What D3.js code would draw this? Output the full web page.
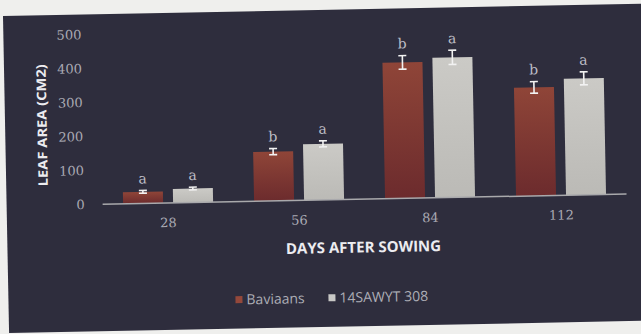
<!DOCTYPE html>
<html>
<head>
<meta charset="utf-8">
<script src="https://cdn.jsdelivr.net/npm/d3@7"></script>
<style>
  html, body { margin: 0; padding: 0; background: #efefed; }
  svg { display: block; }
</style>
</head>
<body>
<svg id="chart" width="641" height="334"></svg>
<script>
// Leaf area (cm2) by days after sowing, two wheat lines
const days = ["28", "56", "84", "112"];
const seriesNames = ["Baviaans", "14SAWYT 308"];
const baviaans = [34, 145, 400, 319];
const baviaansErr = [4, 9, 20, 17];
const sawyt = [41, 165, 412, 343];
const sawytErr = [4, 9, 21, 19];
const baviaansLetters = ["a", "b", "b", "b"];
const sawytLetters = ["a", "a", "a", "a"];
const yTicks = [0, 100, 200, 300, 400, 500];

const rows = days.map((d, i) => ({
  day: d,
  bars: [
    { series: seriesNames[0], value: baviaans[i], err: baviaansErr[i], letter: baviaansLetters[i] },
    { series: seriesNames[1], value: sawyt[i], err: sawytErr[i], letter: sawytLetters[i] }
  ]
}));

const svg = d3.select("#chart");

// gradients for the two bar fills
const defs = svg.append("defs");
function grad(id, top, bottom) {
  const g = defs.append("linearGradient").attr("id", id)
    .attr("x1", 0).attr("y1", 0).attr("x2", 0).attr("y2", 1);
  g.append("stop").attr("offset", "0%").attr("stop-color", top);
  g.append("stop").attr("offset", "100%").attr("stop-color", bottom);
}
grad("gBav", "#8f4538", "#6c2b2d");
grad("gSaw", "#cbcac6", "#bbbab6");
const fills = { "Baviaans": "url(#gBav)", "14SAWYT 308": "url(#gSaw)" };
const swatch = { "Baviaans": "#94483b", "14SAWYT 308": "#c8c8c6" };

// whole slide is slightly tilted
const root = svg.append("g").attr("transform", "rotate(-1.1 320 170)");

root.append("rect")
  .attr("x", 6).attr("y", 10).attr("width", 645).attr("height", 317)
  .attr("fill", "#2e2d3d");

const x = d3.scaleBand().domain(days).range([102, 626]).paddingInner(0).paddingOuter(0);
const xs = d3.scaleBand().domain(seriesNames).range([0, x.bandwidth()])
  .paddingInner(0.2).paddingOuter(0.41);
const y = d3.scaleLinear().domain([0, 500]).range([200, 30]);

// y tick labels (no axis line)
const yAxis = d3.axisLeft(y).tickValues(yTicks).tickSize(0).tickPadding(0);
const yg = root.append("g").attr("transform", "translate(84,0)").call(yAxis);
yg.select(".domain").remove();
yg.selectAll("text")
  .attr("font-family", "'DejaVu Serif', serif")
  .attr("font-size", 13)
  .attr("fill", "#a9a9b3");

// x category labels
const xAxis = d3.axisBottom(x).tickSize(0).tickPadding(0);
const xg = root.append("g").attr("transform", "translate(0,215)").call(xAxis);
xg.select(".domain").remove();
xg.selectAll("text")
  .attr("font-family", "'DejaVu Serif', serif")
  .attr("font-size", 13)
  .attr("fill", "#a9a9b3");

// bars
const groups = root.selectAll("g.day").data(rows).enter().append("g")
  .attr("class", "day")
  .attr("transform", d => `translate(${x(d.day)},0)`);

groups.selectAll("rect").data(d => d.bars).enter().append("rect")
  .attr("x", d => xs(d.series))
  .attr("width", xs.bandwidth())
  .attr("y", d => y(d.value))
  .attr("height", d => y(0) - y(d.value))
  .attr("fill", d => fills[d.series]);

// baseline
root.append("line")
  .attr("x1", 102).attr("x2", 626).attr("y1", y(0)).attr("y2", y(0))
  .attr("stroke", "#a9a9ac").attr("stroke-width", 1.5);

// error bars
const eb = groups.selectAll("g.err").data(d => d.bars).enter().append("g")
  .attr("class", "err")
  .attr("stroke", "#f2f2f2").attr("stroke-width", 1.6);
const cx = d => xs(d.series) + xs.bandwidth() / 2;
eb.append("line")
  .attr("x1", cx).attr("x2", cx)
  .attr("y1", d => y(d.value - d.err)).attr("y2", d => y(d.value + d.err));
eb.append("line")
  .attr("x1", d => cx(d) - 4).attr("x2", d => cx(d) + 4)
  .attr("y1", d => y(d.value + d.err)).attr("y2", d => y(d.value + d.err));
eb.append("line")
  .attr("x1", d => cx(d) - 4).attr("x2", d => cx(d) + 4)
  .attr("y1", d => y(d.value - d.err)).attr("y2", d => y(d.value - d.err));

// significance letters
groups.selectAll("text.sig").data(d => d.bars).enter().append("text")
  .attr("class", "sig")
  .attr("x", cx)
  .attr("y", d => y(d.value + d.err) - 12)
  .attr("dy", "0.35em")
  .attr("text-anchor", "middle")
  .attr("font-family", "'DejaVu Serif', serif")
  .attr("font-size", 14)
  .attr("fill", "#bdbdc6")
  .text(d => d.letter);

// axis titles
root.append("text")
  .attr("transform", "translate(43,120) rotate(-90)")
  .attr("text-anchor", "middle")
  .attr("dy", "0.35em")
  .attr("font-family", "'Open Sans', sans-serif")
  .attr("font-weight", "bold")
  .attr("font-size", 13)
  .attr("textLength", 122)
  .attr("lengthAdjust", "spacingAndGlyphs")
  .attr("fill", "#ececf0")
  .text("LEAF AREA (CM2)");

root.append("text")
  .attr("x", 362).attr("y", 248)
  .attr("text-anchor", "middle")
  .attr("dy", "0.35em")
  .attr("font-family", "'Open Sans', sans-serif")
  .attr("font-weight", "bold")
  .attr("font-size", 15)
  .attr("fill", "#ececf0")
  .text("DAYS AFTER SOWING");

// legend
const legendX = [233, 326];
const leg = root.selectAll("g.leg").data(seriesNames).enter().append("g")
  .attr("class", "leg")
  .attr("transform", (d, i) => `translate(${legendX[i]},298)`);
leg.append("rect")
  .attr("x", 0).attr("y", -3.5).attr("width", 7).attr("height", 7)
  .attr("fill", d => swatch[d]);
leg.append("text")
  .attr("x", 11).attr("dy", "0.35em")
  .attr("font-family", "'Open Sans', sans-serif")
  .attr("font-size", 14)
  .attr("fill", "#adadb6")
  .text(d => d);
</script>
</body>
</html>
